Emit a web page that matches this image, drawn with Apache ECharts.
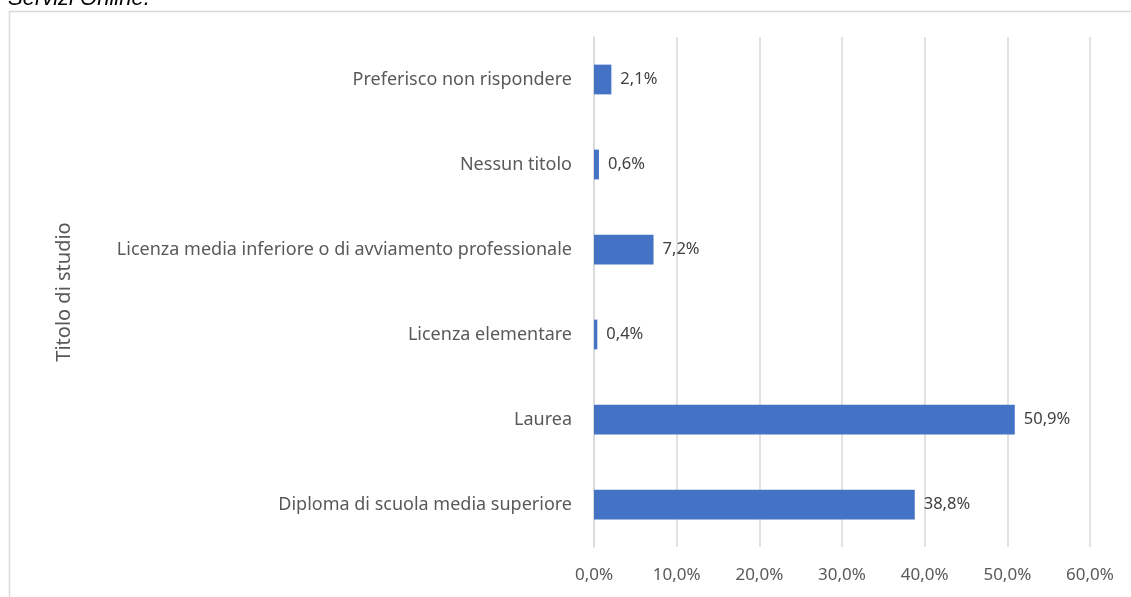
<!DOCTYPE html>
<html>
<head>
<meta charset="utf-8">
<script src="https://cdn.jsdelivr.net/npm/echarts@6/dist/echarts.min.js"></script>
<style>
  html, body { margin: 0; padding: 0; background: #fff; }
  #chart { width: 1131px; height: 597px; }
</style>
</head>
<body>
<div id="chart"></div>
<script>
const categories = [
  'Diploma di scuola media superiore',
  'Laurea',
  'Licenza elementare',
  'Licenza media inferiore o di avviamento professionale',
  'Nessun titolo',
  'Preferisco non rispondere'
]
const values = [38.8, 50.9, 0.4, 7.2, 0.6, 2.1]
const xTicks = [0, 10, 20, 30, 40, 50, 60]

const fmt = v => v.toFixed(1).replace('.', ',') + '%'

const chart = echarts.init(document.getElementById('chart'))
const font = '"Noto Sans", "Open Sans", sans-serif'
const option = {
  animation: false,
  textStyle: { fontFamily: font },
  graphic: [
    {
      type: 'rect',
      shape: { x: 9.5, y: 11.5, width: 1200, height: 700 },
      style: { fill: 'none', stroke: '#d9d9d9', lineWidth: 1.5 },
      silent: true
    },
    {
      type: 'text',
      x: 8,
      y: 10,
      style: {
        text: 'Servizi Online.',
        font: 'italic 22px "Liberation Sans", Arial, sans-serif',
        fill: '#000',
        verticalAlign: 'bottom'
      }
    }
  ],
  grid: {
    left: 594,
    right: 41,
    top: 37,
    bottom: 50,
    containLabel: false
  },
  xAxis: {
    type: 'value',
    min: xTicks[0],
    max: xTicks[xTicks.length - 1],
    interval: 10,
    axisLine: { show: false },
    axisTick: { show: false },
    splitLine: { lineStyle: { color: '#d9d9d9', width: 1.5 } },
    axisLabel: {
      color: '#595959',
      fontSize: 17,
      margin: 20,
      formatter: v => fmt(v)
    }
  },
  yAxis: {
    type: 'category',
    data: categories,
    name: 'Titolo di studio',
    nameLocation: 'middle',
    nameGap: 520,
    nameRotate: 90,
    nameTextStyle: { color: '#595959', fontSize: 20 },
    axisLine: { show: true, lineStyle: { color: '#d9d9d9', width: 1.5 } },
    axisTick: { show: false },
    axisLabel: { color: '#595959', fontSize: 18, margin: 22 }
  },
  series: [
    {
      type: 'bar',
      data: values,
      barWidth: '35%',
      itemStyle: { color: '#4472c4' },
      label: {
        show: true,
        position: 'right',
        distance: 9,
        color: '#404040',
        fontSize: 16.5,
        formatter: p => fmt(p.value)
      }
    }
  ]
}
chart.setOption(option)
</script>
</body>
</html>
